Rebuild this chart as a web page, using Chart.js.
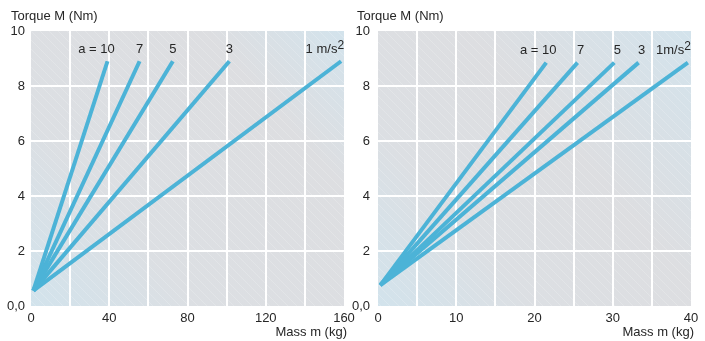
<!DOCTYPE html>
<html>
<head>
<meta charset="utf-8">
<script src="https://cdn.jsdelivr.net/npm/chart.js@4/dist/chart.umd.min.js"></script>
<style>
    html, body { margin: 0; padding: 0; background: #fff; }
    body { width: 705px; height: 341px; position: relative; overflow: hidden; }
    .box { position: absolute; top: 0; height: 341px; width: 360px; }
    #box_left { left: 0; }
    #box_right { left: 345px; }
</style>
</head>
<body>
<div class="box" id="box_left"><canvas id="torque_left"></canvas></div>
<div class="box" id="box_right"><canvas id="torque_right"></canvas></div>

<script>
// acceleration of each line, m/s2
const accel = [10, 7, 5, 3, 1];

// left chart: mass 0..160 kg
const leftStart = [1.2, 0.56];
const leftEndMass = [39.1, 55.5, 72.5, 101.4, 158.5];
const leftEndTorque = [8.9, 8.9, 8.9, 8.9, 8.9];
const leftXTicks = [0, 40, 80, 120, 160];

// right chart: mass 0..40 kg
const rightStart = [0.3, 0.76];
const rightEndMass = [21.5, 25.5, 30.2, 33.3, 39.6];
const rightEndTorque = [8.85, 8.85, 8.85, 8.85, 8.85];
const rightXTicks = [0, 10, 20, 30, 40];

const yTicks = [0, 2, 4, 6, 8, 10];

const FONT = "'Liberation Sans', Arial, Helvetica, sans-serif";
const TEXT = '#262626';
const LINE = '#4cb3d7';

function hatchPattern(ctx)
{
    const c = document.createElement('canvas');
    c.width = 9;
    c.height = 9;
    const p = c.getContext('2d');
    p.strokeStyle = 'rgba(255,255,255,0.18)';
    p.lineWidth = 1;
    p.beginPath();
    p.moveTo(-1, -1);
    p.lineTo(10, 10);
    p.stroke();
    return ctx.createPattern(c, 'repeat');
}

const backdrop = {
    id: 'backdrop',
    beforeDraw(chart, args, opts) {
        const a = chart.chartArea;
        const ctx = chart.ctx;
        const g = ctx.createLinearGradient(a.left, a.bottom, a.right, a.top);
        g.addColorStop(0, '#d2e3ec');
        g.addColorStop(opts.grayFrom, '#dcdfe3');
        g.addColorStop(opts.grayTo, '#dddee1');
        g.addColorStop(1, '#d3e3ec');
        ctx.save();
        ctx.fillStyle = g;
        ctx.fillRect(a.left, a.top, a.right - a.left, a.bottom - a.top);
        ctx.fillStyle = hatchPattern(ctx);
        ctx.fillRect(a.left, a.top, a.right - a.left, a.bottom - a.top);
        ctx.restore();
    }
};

const captions = {
    id: 'captions',
    afterDatasetsDraw(chart, args, opts) {
        const ctx = chart.ctx;
        const xs = chart.scales.x;
        const ys = chart.scales.y;
        ctx.save();
        ctx.fillStyle = TEXT;
        ctx.font = '13px ' + FONT;
        ctx.textBaseline = 'middle';

        ctx.textAlign = 'left';
        ctx.fillText('Torque M (Nm)', opts.titleX, 16);
        ctx.textAlign = 'right';
        ctx.fillText('Mass m (kg)', xs.right + 3, 332);

        opts.endMass.forEach(function (m, i) {
            const px = xs.getPixelForValue(m);
            const py = ys.getPixelForValue(opts.endTorque[i]) - 12;
            if (i === accel.length - 1) {
                // unit label on the flattest line, with superscript 2
                ctx.font = '12px ' + FONT;
                ctx.textAlign = 'right';
                const right = px + 3;
                ctx.fillText('2', right, py - 4);
                const w2 = ctx.measureText('2').width;
                ctx.font = '13px ' + FONT;
                ctx.fillText(opts.unitText, right - w2, py);
                return;
            }
            const num = String(accel[i]);
            const cx = px + opts.labelShift;
            ctx.textAlign = 'center';
            ctx.fillText(num, cx, py);
            if (i === 0) {
                ctx.textAlign = 'right';
                ctx.fillText('a = ', cx - ctx.measureText(num).width / 2, py);
            }
        });
        ctx.restore();
    }
};

function buildConfig(start, endMass, endTorque, xTicks, step, yWidth, padRight, extra)
{
    const datasets = endMass.map(function (m, i) {
        return {
            label: 'a = ' + accel[i],
            data: [{ x: start[0], y: start[1] }, { x: m, y: endTorque[i] }],
            borderColor: LINE,
            backgroundColor: LINE,
            borderWidth: 4,
            pointRadius: 0,
            fill: false
        };
    });

    const xMax = xTicks[xTicks.length - 1];

    return {
        type: 'line',
        data: { datasets: datasets },
        options: {
            animation: false,
            responsive: true,
            maintainAspectRatio: false,
            layout: { padding: { top: 31, right: padRight, bottom: 0, left: 0 } },
            plugins: {
                legend: { display: false },
                tooltip: { enabled: false },
                backdrop: extra.backdrop,
                captions: Object.assign({ endMass: endMass, endTorque: endTorque }, extra.captions)
            },
            scales: {
                x: {
                    type: 'linear',
                    min: 0,
                    max: xMax,
                    afterFit(s) { s.height = 35; },
                    ticks: {
                        stepSize: step,
                        padding: 5,
                        color: TEXT,
                        font: { family: FONT, size: 13 },
                        autoSkip: false,
                        maxRotation: 0,
                        callback: function (v) { return xTicks.includes(v) ? String(v) : ''; }
                    },
                    grid: {
                        drawTicks: false,
                        lineWidth: 2,
                        color: function (c) {
                            const v = c.tick ? c.tick.value : 0;
                            return (v === 0 || v === xMax) ? 'rgba(0,0,0,0)' : '#ffffff';
                        }
                    },
                    border: { display: false }
                },
                y: {
                    min: 0,
                    max: 10,
                    afterFit(s) { s.width = yWidth; },
                    ticks: {
                        stepSize: 2,
                        padding: extra.yPad,
                        color: TEXT,
                        font: { family: FONT, size: 13 },
                        callback: function (v) {
                            if (!yTicks.includes(v)) return '';
                            return v === 0 ? '0,0' : String(v);
                        }
                    },
                    grid: {
                        drawTicks: false,
                        lineWidth: 2,
                        color: function (c) {
                            const v = c.tick ? c.tick.value : 0;
                            return (v === 0 || v === 10) ? 'rgba(0,0,0,0)' : '#ffffff';
                        }
                    },
                    border: { display: false }
                }
            }
        },
        plugins: [backdrop, captions]
    };
}

function prepareCharts()
{
    new Chart(document.getElementById('torque_left'), buildConfig(
        leftStart, leftEndMass, leftEndTorque, leftXTicks, 20, 31, 16,
        {
            yPad: 6,
            backdrop: { grayFrom: 0.3, grayTo: 0.75 },
            captions: { titleX: 11, unitText: '1 m/s', labelShift: 0 }
        }
    ));

    new Chart(document.getElementById('torque_right'), buildConfig(
        rightStart, rightEndMass, rightEndTorque, rightXTicks, 5, 33, 14,
        {
            yPad: 8,
            backdrop: { grayFrom: 0.28, grayTo: 0.6 },
            captions: { titleX: 12, unitText: '1m/s', labelShift: 3 }
        }
    ));
}

window.addEventListener('load', prepareCharts);
</script>
</body>
</html>
